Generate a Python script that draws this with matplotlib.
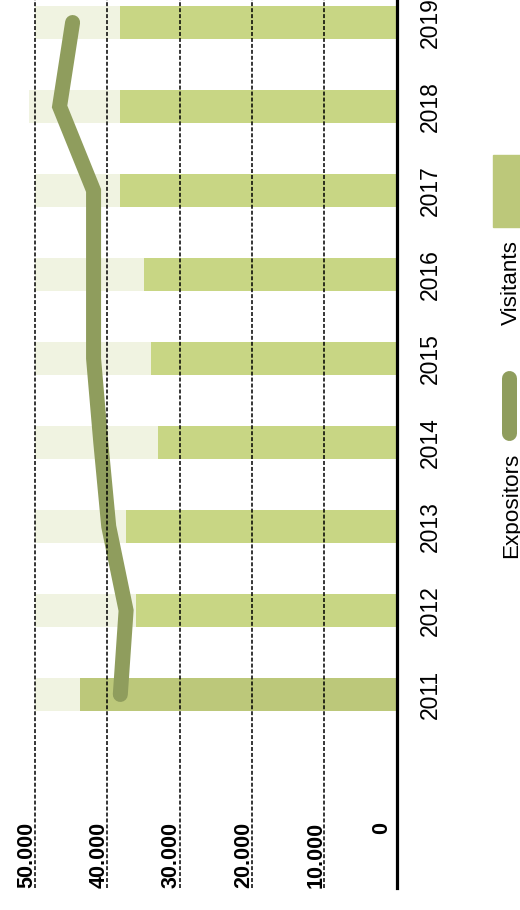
import matplotlib.pyplot as plt
from matplotlib.patches import Rectangle
from matplotlib.lines import Line2D

# visitors and exhibitors per year
years = [2011, 2012, 2013, 2014, 2015, 2016, 2017, 2018, 2019]
visitants = [43800, 36000, 37400, 33000, 33900, 34900, 38200, 38200, 38200]
expositors = [38200, 37400, 39800, 40900, 41900, 41900, 41900, 46600, 44800]
track = [50000, 50000, 50000, 50000, 50000, 50000, 50000, 50800, 50000]
value_ticks = [0, 10000, 20000, 30000, 40000, 50000]
tick_labels = ["0", "10.000", "20.000", "30.000", "40.000", "50.000"]

bar_color = "#c8d684"
first_bar_color = "#bcc87a"
track_color = "#f0f3e1"
line_color = "#8f9d5d"

W, H = 520, 910
fig = plt.figure(figsize=(W / 100, H / 100), dpi=100)


def fx(px):
    return px / W


def fy(py):
    return 1 - py / H


# the whole chart is turned on its side: values run right-to-left, years bottom-to-top
ax = fig.add_axes([0, fy(888), fx(396.5), 888 / H])
ax.set_xlim(54840, 0)
ax.set_ylim(-2.304, 8.268)
ax.axis("off")

pos = list(range(len(years)))
colors = [first_bar_color] + [bar_color] * (len(years) - 1)
ax.barh(pos, track, height=0.39, color=track_color, zorder=1)
ax.barh(pos, visitants, height=0.39, color=colors, zorder=2)
ax.plot(expositors, pos, color=line_color, lw=10.8,
        solid_capstyle="round", solid_joinstyle="miter", zorder=3)

for v in value_ticks[1:]:
    ax.axvline(v, color="black", lw=1.1, linestyle=(0, (2.6, 1.3)), zorder=4)
ax.axvline(0, color="black", lw=2.3, zorder=5, clip_on=False)

lab_font = "Liberation Sans"
for v, t in zip(value_ticks, tick_labels):
    pad = -9.5 if v == 0 else -3
    ax.annotate(t, xy=(v, fy(822)), xycoords=("data", "figure fraction"),
                xytext=(pad, 0), textcoords="offset pixels",
                rotation=90, rotation_mode="anchor", ha="right", va="baseline",
                fontsize=15.5, fontweight="bold", family=lab_font)

for p, y in zip(pos, years):
    ax.annotate(str(y), xy=(fx(436.5), p), xycoords=("figure fraction", "data"),
                rotation=90, rotation_mode="anchor", ha="center", va="baseline",
                fontsize=16.5, family=lab_font)

# legend
fig.add_artist(Rectangle((fx(493), fy(227)), fx(40), 72 / H,
                         transform=fig.transFigure, color=first_bar_color))
fig.add_artist(Line2D([fx(509.3), fx(509.3)], [fy(432.5), fy(377.5)],
                      transform=fig.transFigure, color=line_color, lw=10.8,
                      solid_capstyle="round"))
fig.text(fx(516.7), fy(282.5), "Visitants", rotation=90, rotation_mode="anchor",
         ha="center", va="baseline", fontsize=16.2, family=lab_font)
fig.text(fx(516.7), fy(505), "Expositors", rotation=90, rotation_mode="anchor",
         ha="center", va="baseline", fontsize=16.2, family=lab_font)

fig.savefig("out.png", dpi=100)
